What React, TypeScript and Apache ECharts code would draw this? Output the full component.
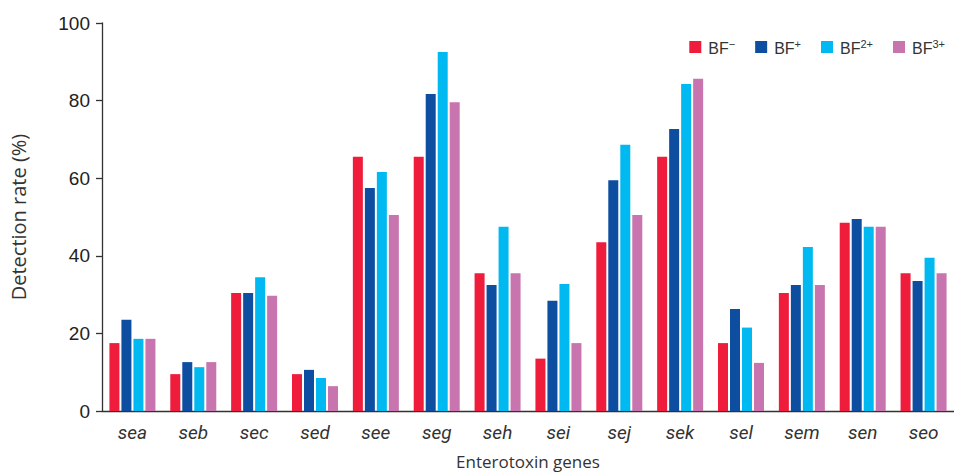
import React, { useEffect, useRef } from "react";
import * as echarts from "echarts";

const categories = ["sea", "seb", "sec", "sed", "see", "seg", "seh", "sei", "sej", "sek", "sel", "sem", "sen", "seo"];
const seriesNames = ["BF\u207B", "BF\u207A", "BF\u00B2\u207A", "BF\u00B3\u207A"];
const legendSup = ["\u2212", "+", "2+", "3+"];
const bfNeg = [17.5, 9.5, 30.4, 9.5, 65.5, 65.5, 35.5, 13.5, 43.5, 65.5, 17.5, 30.4, 48.5, 35.5];
const bfPlus = [23.5, 12.6, 30.4, 10.6, 57.5, 81.7, 32.5, 28.4, 59.5, 72.7, 26.3, 32.5, 49.5, 33.5];
const bf2Plus = [18.6, 11.3, 34.5, 8.5, 61.6, 92.5, 47.5, 32.7, 68.6, 84.3, 21.5, 42.3, 47.5, 39.5];
const bf3Plus = [18.6, 12.6, 29.7, 6.4, 50.5, 79.6, 35.5, 17.5, 50.5, 85.6, 12.4, 32.5, 47.5, 35.5];
const yTicks = [0, 20, 40, 60, 80, 100];
const colors = ["#EF1C3C", "#0D4EA0", "#00B9F0", "#C874AE"];

export default function App() {
  const ref = useRef<HTMLDivElement>(null);
  useEffect(() => {
    if (!ref.current) return;
    const chart = echarts.init(ref.current, null, { renderer: "svg" });
    const data = [bfNeg, bfPlus, bf2Plus, bf3Plus];
    chart.setOption({
      animation: false,
      grid: { left: 102, right: 0, top: 23, bottom: 64, outerBoundsMode: "none", containLabel: false },
      legend: {
        top: 33,
        right: 4,
        itemWidth: 12,
        itemHeight: 12,
        itemGap: 20,
        icon: "rect",
        data: seriesNames,
        formatter: (name: string) => {
          const i = seriesNames.indexOf(name);
          return "{b|BF}{s|" + legendSup[i] + "}";
        },
        textStyle: {
          padding: [0, 0, 0, 2],
          rich: {
            b: { fontFamily: "Liberation Sans", fontSize: 16, color: "#333", lineHeight: 18, verticalAlign: "bottom" },
            s: { fontFamily: "Liberation Sans", fontSize: 11, color: "#333", lineHeight: 18, verticalAlign: "top", padding: [0, 0, 6, 0] },
          },
        },
      },
      xAxis: {
        type: "category",
        data: categories,
        name: "Enterotoxin genes",
        nameLocation: "middle",
        nameGap: 42,
        nameTextStyle: { fontFamily: "Open Sans", fontSize: 17, color: "#333" },
        axisLine: { lineStyle: { color: "#333", width: 1.3 } },
        axisTick: { alignWithLabel: true, length: 6, lineStyle: { color: "#333", width: 1.3 } },
        axisLabel: { fontFamily: "Roboto", fontStyle: "italic", fontSize: 19, color: "#333", margin: 12 },
      },
      yAxis: {
        type: "value",
        min: yTicks[0],
        max: yTicks[yTicks.length - 1],
        interval: 20,
        name: "Detection rate (%)",
        nameLocation: "middle",
        nameGap: 74,
        nameTextStyle: { fontFamily: "Open Sans", fontSize: 20, color: "#333" },
        axisLine: { show: true, lineStyle: { color: "#333", width: 1.3 } },
        axisTick: { show: true, length: 6, lineStyle: { color: "#333", width: 1.3 } },
        splitLine: { show: false },
        axisLabel: { fontFamily: "Liberation Sans", fontSize: 19, color: "#222", margin: 12 },
      },
      series: data.map((d, i) => ({
        name: seriesNames[i],
        type: "bar",
        data: d,
        barWidth: 10,
        barGap: "20%",
        itemStyle: { color: colors[i] },
      })),
    });
    return () => chart.dispose();
  }, []);
  return <div ref={ref} style={{ position: "fixed", left: 0, top: 0, width: 954, height: 475, background: "#fff" }} />;
}
